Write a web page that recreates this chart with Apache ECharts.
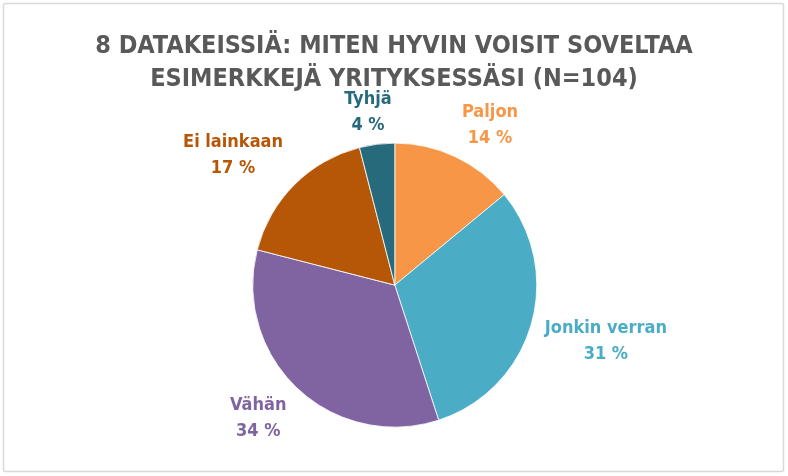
<!DOCTYPE html>
<html>
<head>
<meta charset="utf-8">
<script src="https://cdn.jsdelivr.net/npm/echarts@6/dist/echarts.min.js"></script>
<style>
html,body{margin:0;padding:0;background:#fff;}
#chart{width:788px;height:476px;}
</style>
</head>
<body>
<div id="chart"></div>
<script>
var titleLines = ['8 DATAKEISSIÄ: MITEN HYVIN VOISIT SOVELTAA', 'ESIMERKKEJÄ YRITYKSESSÄSI (N=104)'];
var categories = ['Paljon', 'Jonkin verran', 'Vähän', 'Ei lainkaan', 'Tyhjä'];
var values = [14, 31, 34, 17, 4];
var colors = ['#F79646', '#4BACC6', '#8064A2', '#B65708', '#276A7C'];

var FONT = '"DejaVu Sans Condensed", "Liberation Sans", sans-serif';
var GAP = 9;

function clamp1(v) { return Math.max(-1, Math.min(1, v)); }

var chart = echarts.init(document.getElementById('chart'), null, {renderer: 'canvas'});
var data = categories.map(function (c, i) {
  return {
    name: c,
    value: values[i],
    itemStyle: {color: colors[i]},
    label: {color: colors[i]}
  };
});

chart.setOption({
  animation: false,
  backgroundColor: '#ffffff',
  title: {
    text: titleLines.join('\n'),
    left: 'center',
    top: 25,
    textStyle: {
      fontFamily: FONT,
      fontWeight: 'bold',
      fontSize: 25,
      lineHeight: 33,
      color: '#595959'
    }
  },
  graphic: [{
    type: 'rect',
    shape: {x: 3.5, y: 3.5, width: 780, height: 468, r: 2},
    style: {fill: 'none', stroke: '#D9D9D9', lineWidth: 1.5},
    silent: true
  }],
  series: [{
    type: 'pie',
    center: ['50.1%', '59.9%'],
    radius: 142,
    startAngle: 90,
    clockwise: true,
    avoidLabelOverlap: false,
    data: data,
    itemStyle: {borderColor: '#ffffff', borderWidth: 0.8},
    label: {
      show: true,
      position: 'outside',
      formatter: function (p) { return p.name + '\n' + p.value + ' %'; },
      fontFamily: FONT,
      fontWeight: 'bold',
      fontSize: 18,
      lineHeight: 26,
      align: 'center'
    },
    labelLine: {show: true, length: 4, length2: 0, lineStyle: {opacity: 0, width: 0}},
    emphasis: {disabled: true},
    labelLayout: function (p) {
      var pts = p.labelLinePoints;
      var r = p.labelRect;
      if (!pts || pts.length < 2) return {};
      var x0 = pts[0][0], y0 = pts[0][1];
      var dx = pts[1][0] - x0, dy = pts[1][1] - y0;
      var L = Math.sqrt(dx * dx + dy * dy) || 1;
      var ux = dx / L, uy = dy / L;
      var px = x0 + ux * GAP, py = y0 + uy * GAP;
      var fx = clamp1(2.2 * ux), fy = clamp1(2.2 * uy);
      return {
        x: px + fx * (r.width / 2 + 5),
        y: py + fy * (r.height / 2 - 3),
        align: 'center',
        verticalAlign: 'middle'
      };
    }
  }]
});
</script>
</body>
</html>
